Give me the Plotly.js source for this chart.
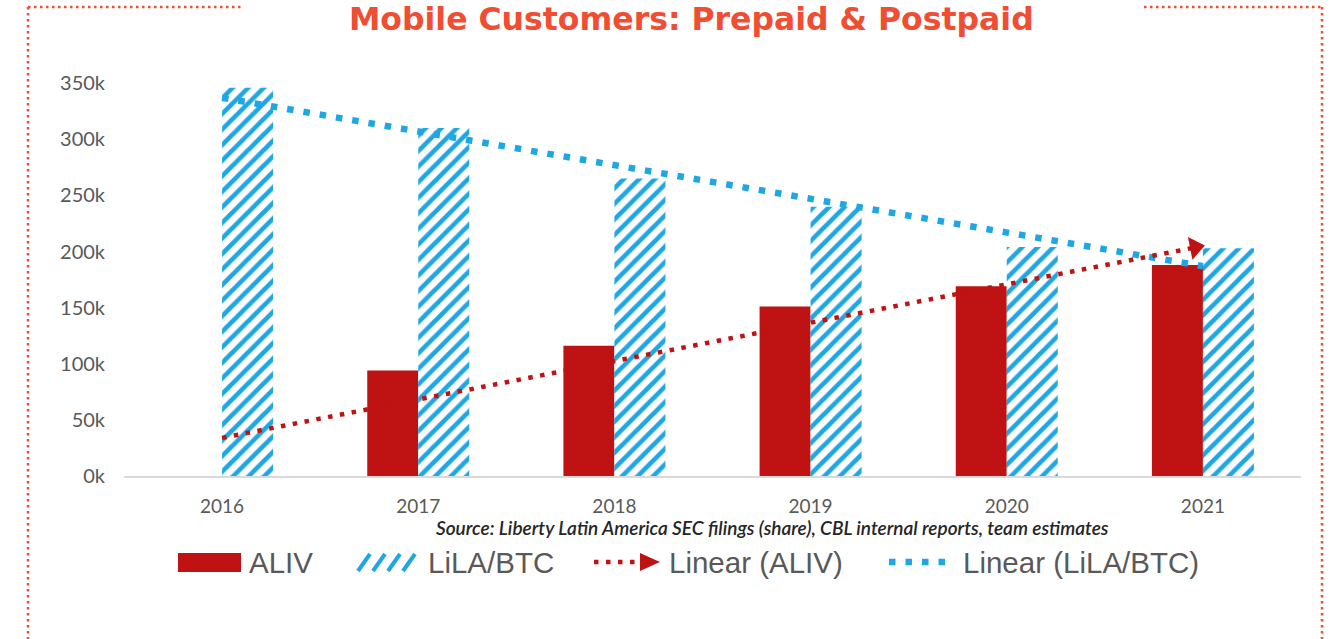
<!DOCTYPE html>
<html>
<head>
<meta charset="utf-8">
<script src="https://cdn.plot.ly/plotly-3.0.1.min.js"></script>
<style>
html,body{margin:0;padding:0;background:#fff;}
#chart{width:1336px;height:639px;}
</style>
</head>
<body>
<div id="chart"></div>
<script>
// ---- data (thousands of customers) ----
const years = ['2016', '2017', '2018', '2019', '2020', '2021'];
const alivValues = [null, 94, 116, 151, 169, 188];
const lilaValues = [346, 310, 265, 240, 204, 203];
const trendYears = ['2016', '2021'];
const trendAliv = [34, 205];
const trendLila = [337, 187];
const yTickValues = [0, 50, 100, 150, 200, 250, 300, 350];
const yTickLabels = ['0k', '50k', '100k', '150k', '200k', '250k', '300k', '350k'];
const titleText = 'Mobile Customers: Prepaid &amp; Postpaid';
const sourceText = 'Source: Liberty Latin America SEC filings (share), CBL internal reports, team estimates';
const legendNames = ['ALIV', 'LiLA/BTC', 'Linear (ALIV)', 'Linear (LiLA/BTC)'];

// ---- layout geometry ----
const W = 1336, H = 639;
const M = {l: 124, r: 35, t: 72, b: 163};
const pw = W - M.l - M.r, ph = H - M.t - M.b;
const px = x => (x - M.l) / pw;
const py = y => (H - M.b - y) / ph;

const RED = '#BF1212';
const BLUE = '#1EA7E4';
const ORANGE = '#F04E33';
const GREY = '#595959';

const traces = [
  {
    type: 'bar', x: years, y: alivValues, name: legendNames[0],
    marker: {color: RED, line: {width: 0}},
    hoverinfo: 'x+y'
  },
  {
    type: 'bar', x: years, y: lilaValues, name: legendNames[1],
    marker: {color: '#ffffff', line: {width: 0},
      pattern: {shape: '/', fgcolor: BLUE, bgcolor: '#ffffff', size: 11, solidity: 0.42}},
    hoverinfo: 'x+y'
  },
  {
    type: 'scatter', mode: 'lines', x: trendYears, y: trendLila, name: legendNames[3],
    line: {color: BLUE, width: 6.5, dash: '6.5px,10px'},
    hoverinfo: 'skip'
  },
  {
    type: 'scatter', mode: 'lines+markers', x: trendYears, y: trendAliv, name: legendNames[2],
    line: {color: RED, width: 4.5, dash: '4.5px,7.5px'},
    marker: {symbol: 'triangle-up', size: [0, 20], color: RED, opacity: 1, angleref: 'previous', standoff: 8, line: {width: 0}},
    hoverinfo: 'skip'
  }
];

const shapes = [];
const annotations = [];

// dotted frame
const frameLine = {type: 'line', xref: 'paper', yref: 'paper', line: {color: ORANGE, width: 2.5, dash: '2.5px,3.5px'}};
shapes.push(Object.assign({}, frameLine, {x0: px(28), x1: px(241), y0: py(7), y1: py(7)}));
shapes.push(Object.assign({}, frameLine, {x0: px(28), x1: px(28), y0: py(7), y1: py(645)}));
shapes.push(Object.assign({}, frameLine, {x0: px(1144), x1: px(1323), y0: py(7), y1: py(7)}));
shapes.push(Object.assign({}, frameLine, {x0: px(1322), x1: px(1322), y0: py(7), y1: py(645)}));

// custom legend
const LY = 562;
shapes.push({type: 'rect', xref: 'paper', yref: 'paper', x0: px(178), x1: px(241), y0: py(572), y1: py(553),
  fillcolor: RED, line: {width: 0}});
for (let i = 0; i < 4; i++) {
  const x0 = 358 + i * 15;
  shapes.push({type: 'line', xref: 'paper', yref: 'paper', x0: px(x0), x1: px(x0 + 12), y0: py(571), y1: py(554),
    line: {color: BLUE, width: 4}});
}
shapes.push({type: 'line', xref: 'paper', yref: 'paper', x0: px(594), x1: px(640), y0: py(LY), y1: py(LY),
  line: {color: RED, width: 4.5, dash: '4.5px,7.5px'}});
shapes.push({type: 'path', xref: 'paper', yref: 'paper',
  path: `M ${px(640)} ${py(553)} L ${px(660)} ${py(LY)} L ${px(640)} ${py(571)} Z`,
  fillcolor: RED, line: {width: 0}});
shapes.push({type: 'line', xref: 'paper', yref: 'paper', x0: px(889), x1: px(946), y0: py(LY), y1: py(LY),
  line: {color: BLUE, width: 6.5, dash: '6.5px,10px'}});

const legendFont = {family: '"Liberation Sans", Arial, sans-serif', size: 29.5, color: GREY};
[[247, legendNames[0]], [426, legendNames[1]], [667, legendNames[2]], [961, legendNames[3]]].forEach(([x, t]) => {
  annotations.push({xref: 'paper', yref: 'paper', x: px(x), y: py(LY), xanchor: 'left', yanchor: 'middle',
    text: t, showarrow: false, font: legendFont});
});

// title (kept fully inside the page)
annotations.push({xref: 'paper', yref: 'paper', x: px(691), y: py(0), xanchor: 'center', yanchor: 'top',
  text: '<b>' + titleText + '</b>', showarrow: false, borderpad: 0,
  font: {family: '"DejaVu Sans", sans-serif', size: 31.5, color: ORANGE, weight: 700}});

// source note
annotations.push({xref: 'paper', yref: 'paper', x: px(773), y: py(527), xanchor: 'center', yanchor: 'middle',
  text: '<i>' + sourceText + '</i>', showarrow: false,
  font: {family: 'Lato, "Open Sans", sans-serif', size: 19, color: '#262626', weight: 600}});

const layout = {
  width: W, height: H,
  margin: M,
  paper_bgcolor: '#ffffff', plot_bgcolor: '#ffffff',
  showlegend: false,
  barmode: 'group', bargap: 0.48, bargroupgap: 0,
  font: {family: 'Lato, "Open Sans", sans-serif', color: GREY},
  xaxis: {
    type: 'category', categoryarray: years, range: [-0.5, 5.5],
    showline: true, linecolor: '#D9D9D9', linewidth: 2,
    showgrid: false, zeroline: false, ticks: '',
    tickfont: {size: 19, color: GREY}, ticklabelstandoff: 12,
    fixedrange: true
  },
  yaxis: {
    range: [0, 360], tickvals: yTickValues, ticktext: yTickLabels,
    showline: false, showgrid: false, zeroline: false, ticks: '',
    tickfont: {size: 20, color: GREY}, ticklabelstandoff: 18,
    fixedrange: true
  },
  shapes: shapes,
  annotations: annotations
};

Plotly.newPlot('chart', traces, layout, {displayModeBar: false, staticPlot: true});
</script>
</body>
</html>
